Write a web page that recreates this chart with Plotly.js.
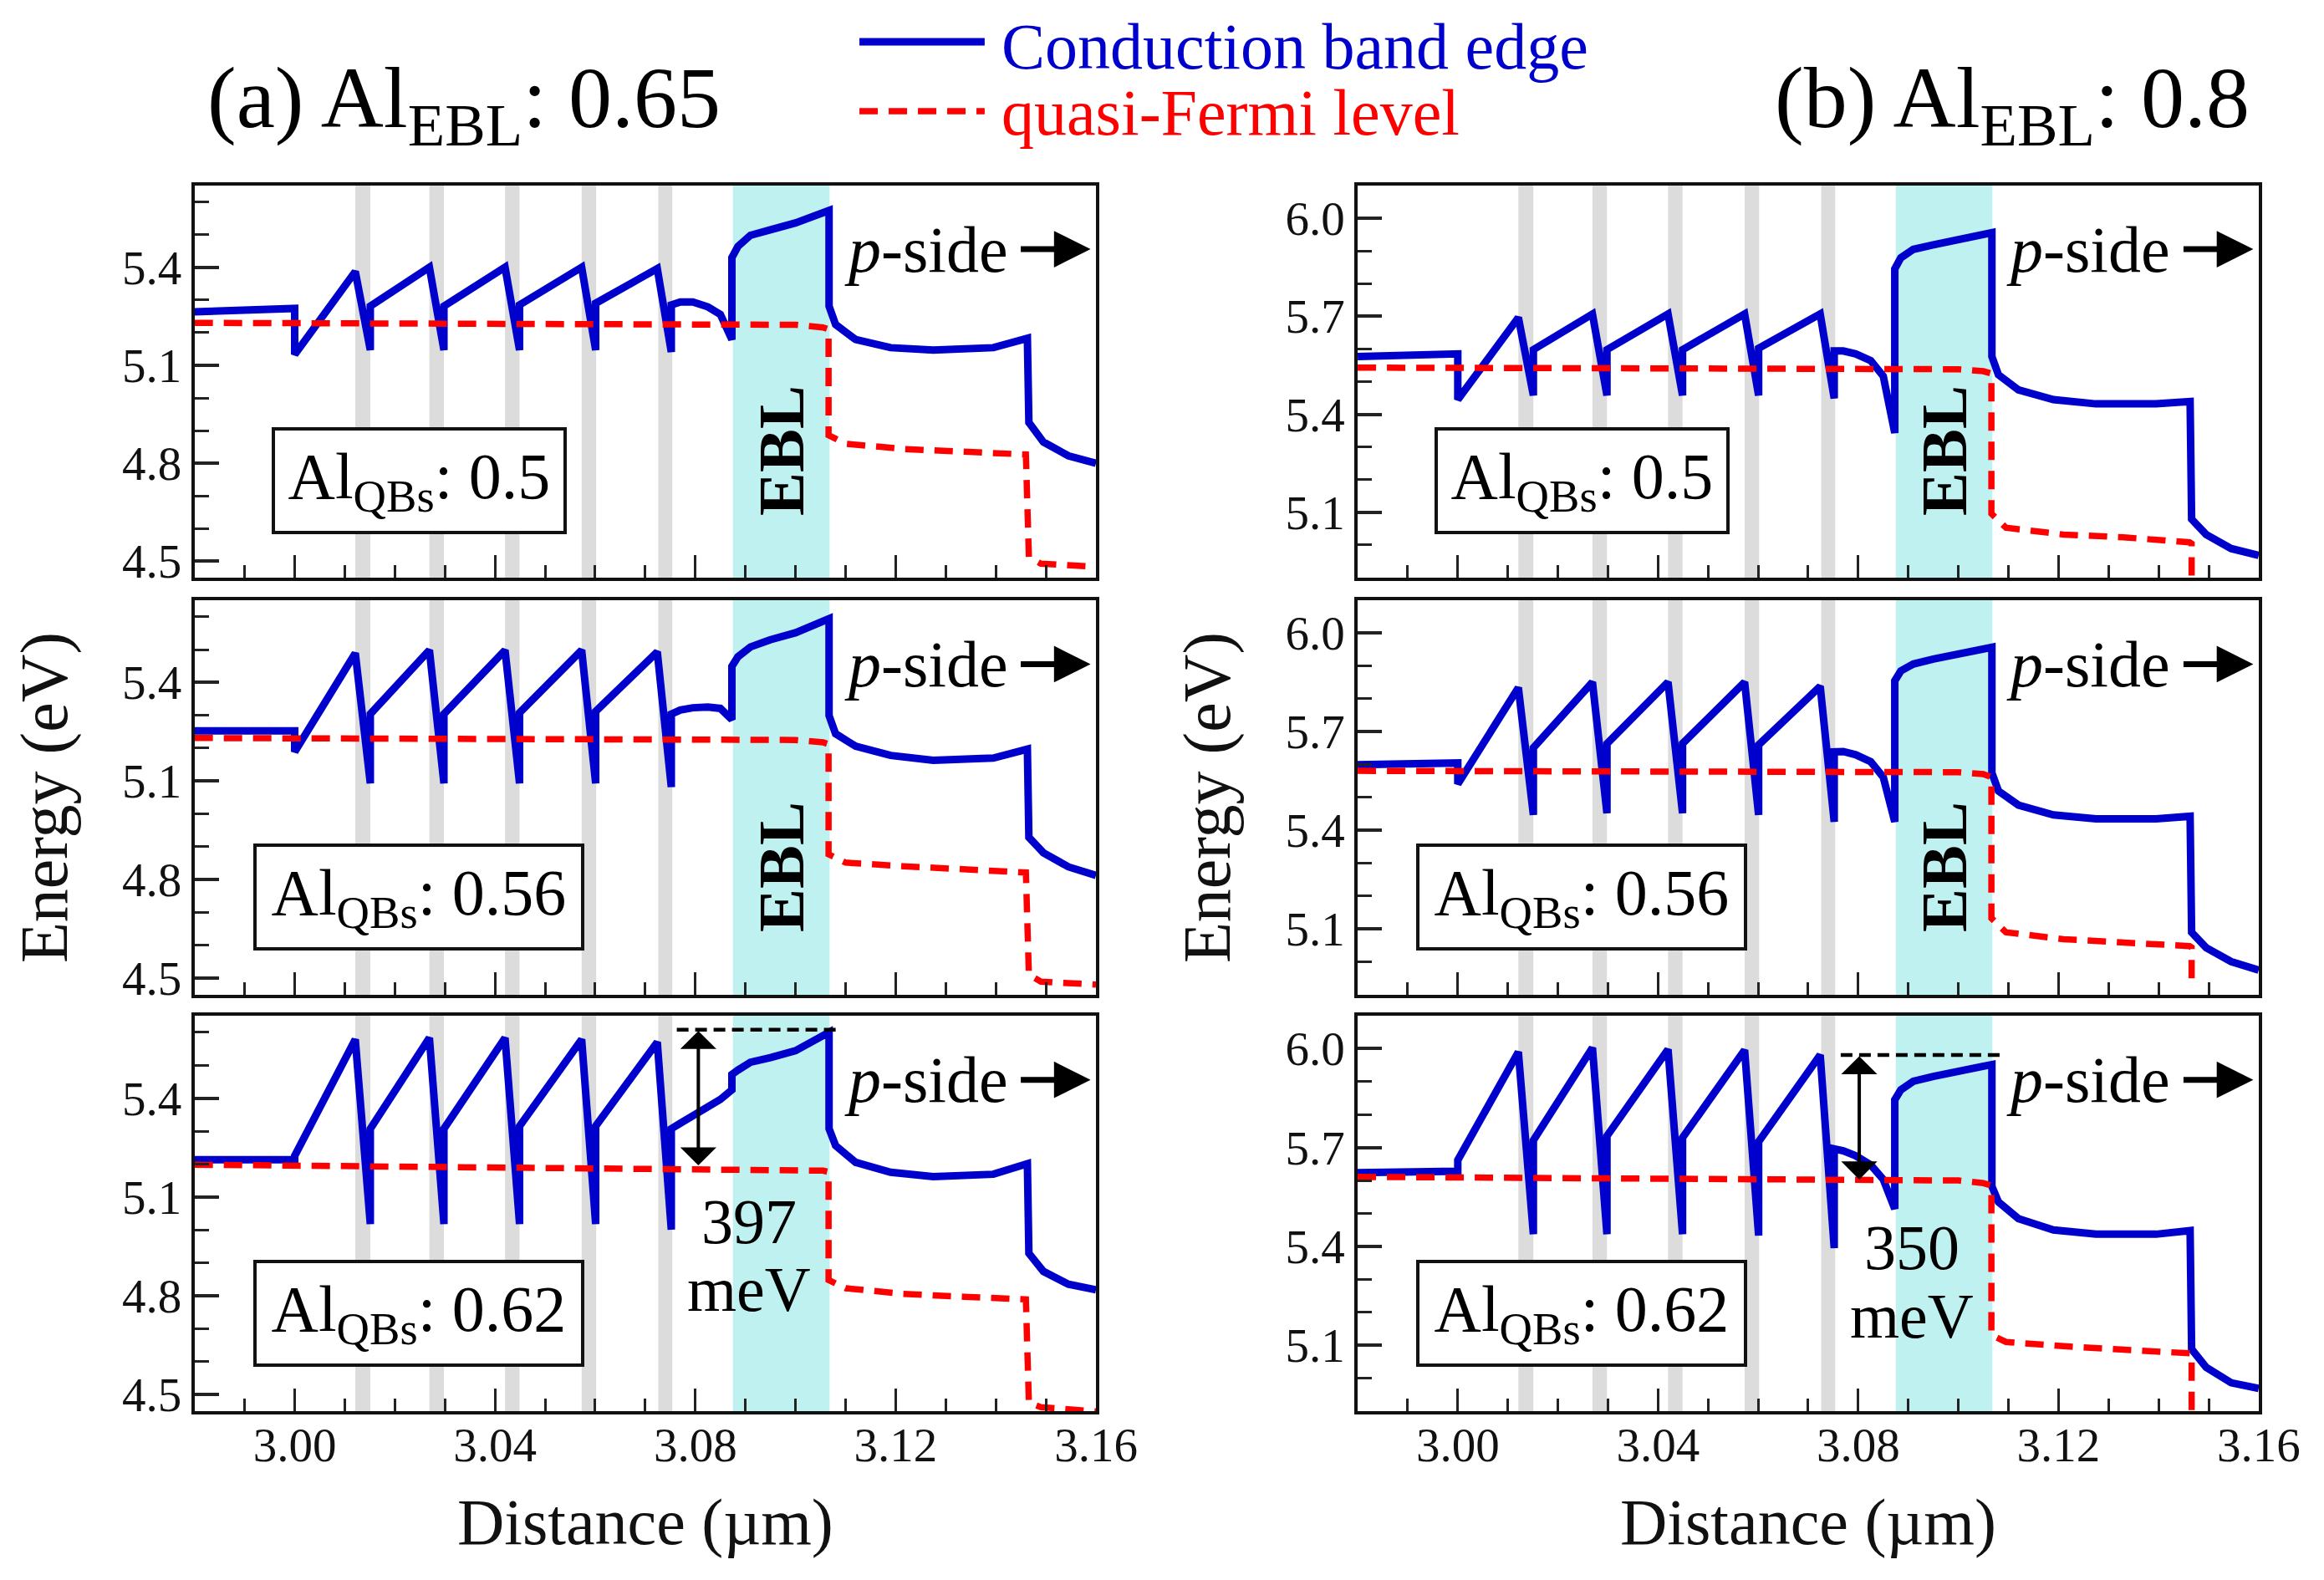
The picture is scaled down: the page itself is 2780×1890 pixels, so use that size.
<!DOCTYPE html>
<html><head><meta charset="utf-8">
<script src="https://cdn.plot.ly/plotly-3.0.1.min.js"></script>
<style>html,body{margin:0;padding:0;background:#fff}</style>
</head><body>
<div id="chart" style="width:2780px;height:1890px"></div>
<script>
// ---------- data ----------
// common sampling positions of the conduction band edge (µm)
const cbX = [2.980, 3.0000, 3.0000, 3.0121, 3.0151, 3.0151, 3.0269, 3.0298, 3.0298, 3.0420,
             3.0449, 3.0449, 3.0573, 3.0601, 3.0601, 3.0724, 3.0752, 3.0752, 3.0770, 3.0795,
             3.0825, 3.0850, 3.0873, 3.0873, 3.0885, 3.0910, 3.0950, 3.1000, 3.1067, 3.1067,
             3.1080, 3.1120, 3.1190, 3.1275, 3.1395, 3.1463, 3.1466, 3.1495, 3.1545, 3.1600];
// (a) Al_EBL 0.65
const cbA50 = [5.264, 5.274, 5.133, 5.387, 5.147, 5.281, 5.400, 5.147, 5.281, 5.400,
               5.147, 5.285, 5.400, 5.147, 5.290, 5.396, 5.141, 5.285, 5.294, 5.294,
               5.279, 5.256, 5.179, 5.430, 5.464, 5.498, 5.515, 5.536, 5.574, 5.281,
               5.225, 5.179, 5.154, 5.147, 5.154, 5.183, 4.925, 4.865, 4.823, 4.800];
const cbA56 = [5.253, 5.253, 5.189, 5.489, 5.093, 5.304, 5.498, 5.093, 5.304, 5.498,
               5.093, 5.308, 5.498, 5.093, 5.312, 5.493, 5.082, 5.304, 5.316, 5.323,
               5.325, 5.321, 5.287, 5.449, 5.478, 5.508, 5.530, 5.551, 5.594, 5.299,
               5.244, 5.206, 5.178, 5.163, 5.170, 5.197, 4.929, 4.882, 4.839, 4.813];
const cbA62 = [5.213, 5.213, 5.225, 5.578, 5.018, 5.307, 5.583, 5.018, 5.307, 5.583,
               5.018, 5.315, 5.578, 5.018, 5.315, 5.570, 5.001, 5.307, 5.324, 5.345,
               5.370, 5.396, 5.425, 5.472, 5.485, 5.509, 5.523, 5.544, 5.600, 5.307,
               5.256, 5.205, 5.175, 5.162, 5.169, 5.201, 4.929, 4.874, 4.835, 4.818];
// (b) Al_EBL 0.8
const cbB50 = [5.577, 5.585, 5.445, 5.696, 5.458, 5.598, 5.707, 5.458, 5.598, 5.707,
               5.458, 5.598, 5.707, 5.458, 5.602, 5.707, 5.449, 5.594, 5.594, 5.585,
               5.564, 5.517, 5.343, 5.845, 5.879, 5.905, 5.919, 5.933, 5.956, 5.577,
               5.521, 5.475, 5.445, 5.432, 5.432, 5.439, 5.079, 5.032, 4.989, 4.968];
const cbB56 = [5.600, 5.605, 5.541, 5.834, 5.447, 5.651, 5.851, 5.452, 5.664, 5.851,
               5.452, 5.664, 5.851, 5.447, 5.660, 5.838, 5.426, 5.639, 5.640, 5.630,
               5.609, 5.562, 5.426, 5.855, 5.885, 5.906, 5.921, 5.935, 5.957, 5.575,
               5.520, 5.477, 5.447, 5.435, 5.435, 5.443, 5.090, 5.043, 5.001, 4.975];
const cbB62 = [5.624, 5.628, 5.662, 5.990, 5.437, 5.722, 6.003, 5.437, 5.735, 5.998,
               5.437, 5.730, 5.996, 5.433, 5.718, 5.981, 5.395, 5.696, 5.690, 5.675,
               5.647, 5.603, 5.514, 5.845, 5.875, 5.901, 5.916, 5.930, 5.952, 5.582,
               5.535, 5.484, 5.450, 5.437, 5.437, 5.448, 5.088, 5.033, 4.986, 4.969];
// quasi-Fermi level
const qfXA = [2.980, 3.1000, 3.1055, 3.1066, 3.1066, 3.1100, 3.1215, 3.1337, 3.1460, 3.1466, 3.1490, 3.1600];
const qfA50 = [5.230, 5.224, 5.216, 5.210, 4.886, 4.860, 4.844, 4.835, 4.827, 4.513, 4.493, 4.483];
const qfA56 = [5.231, 5.225, 5.218, 5.212, 4.877, 4.852, 4.841, 4.830, 4.822, 4.511, 4.490, 4.481];
const qfA62 = [5.198, 5.184, 5.180, 5.176, 4.848, 4.823, 4.806, 4.797, 4.789, 4.475, 4.462, 4.449];
const qfXB = [2.980, 3.1000, 3.1050, 3.1066, 3.1066, 3.1095, 3.1210, 3.1335, 3.1462, 3.1466, 3.1466];
const qfB50 = [5.543, 5.538, 5.532, 5.525, 5.096, 5.053, 5.032, 5.023, 5.008, 5.004, 4.880];
const qfB56 = [5.581, 5.577, 5.571, 5.562, 5.133, 5.090, 5.069, 5.060, 5.048, 5.044, 4.950];
const qfB62 = [5.611, 5.600, 5.592, 5.585, 5.131, 5.110, 5.097, 5.088, 5.078, 5.075, 4.850];
// layer regions (µm)
const wellStart = [3.0121, 3.0269, 3.0420, 3.0573, 3.0726];
const wellEnd   = [3.0151, 3.0298, 3.0449, 3.0602, 3.0754];
const eblRange  = [3.0875, 3.1068];
// barrier-height markers in bottom panels: [x, y_fermi, y_peak, x_line_start, x_line_end, label]
const barrierA = [3.0806, 5.196, 5.608, 3.0763, 3.1087, '397'];
const barrierB = [3.0802, 5.603, 5.981, 3.0765, 3.1083, '350'];
const qbsLabels = ['0.5', '0.56', '0.62'];
const eblLabels = ['0.65', '0.8'];

// ---------- layout ----------
const FF = '"Liberation Serif", "Times New Roman", serif';
const BLUE = '#0000cc', RED = '#ff0000';
const RED_DASH = '22px,13px';
const xDom = [[0.0837, 0.4716], [0.5842, 0.9719]];
const yDom = [[0.6344, 0.8825], [0.3704, 0.6201], [0.1069, 0.3571]];
const yRng = [[4.45, 5.65], [4.9, 6.1]];

const panels = [
  {cb: cbA50, qx: qfXA, qf: qfA50, col: 0, row: 0, qb: 0},
  {cb: cbB50, qx: qfXB, qf: qfB50, col: 1, row: 0, qb: 0},
  {cb: cbA56, qx: qfXA, qf: qfA56, col: 0, row: 1, qb: 1},
  {cb: cbB56, qx: qfXB, qf: qfB56, col: 1, row: 1, qb: 1},
  {cb: cbA62, qx: qfXA, qf: qfA62, col: 0, row: 2, qb: 2},
  {cb: cbB62, qx: qfXB, qf: qfB62, col: 1, row: 2, qb: 2}
];

const traces = [], shapes = [], annotations = [];
const layout = {
  width: 2780, height: 1890,
  margin: {l: 0, r: 0, t: 0, b: 0},
  paper_bgcolor: '#fff', plot_bgcolor: '#fff',
  showlegend: false,
  font: {family: FF, color: '#000'}
};

function txt(o) { return Object.assign({showarrow: false, xanchor: 'center', yanchor: 'middle'}, o); }

panels.forEach((p, i) => {
  const n = i + 1, xs = n === 1 ? '' : String(n);
  const xa = 'x' + xs, ya = 'y' + xs;
  traces.push({x: cbX, y: p.cb, xaxis: xa, yaxis: ya, mode: 'lines', name: 'Conduction band edge',
               line: {color: BLUE, width: 9}});
  traces.push({x: p.qx, y: p.qf, xaxis: xa, yaxis: ya, mode: 'lines', name: 'quasi-Fermi level',
               line: {color: RED, width: 7.5, dash: RED_DASH}});
  const bottom = p.row === 2;
  const xax = {
    domain: xDom[p.col], range: [2.98, 3.16], anchor: ya,
    showline: true, mirror: true, linecolor: '#111', linewidth: 4,
    ticks: 'inside', ticklen: 27, tickwidth: 3, tickcolor: '#222',
    tick0: 3.0, dtick: 0.04, tickformat: '.2f',
    minor: {ticks: 'inside', dtick: 0.01, ticklen: 15, tickwidth: 3, tickcolor: '#222', showgrid: false},
    showticklabels: bottom, showgrid: false, zeroline: false,
    tickfont: {family: FF, size: 57, color: '#111'}, ticklabelstandoff: -12
  };
  if (bottom) xax.title = {text: 'Distance (µm)', font: {family: FF, size: 78, color: '#111'}, standoff: 34};
  layout['xaxis' + xs] = xax;
  const yax = {
    domain: yDom[p.row], range: yRng[p.col], anchor: xa,
    showline: true, mirror: true, linecolor: '#111', linewidth: 4,
    ticks: 'inside', ticklen: 29, tickwidth: 4, tickcolor: '#222',
    tick0: 4.5, dtick: 0.3, tickformat: '.1f',
    minor: {ticks: 'inside', dtick: 0.1, ticklen: 17, tickwidth: 3, tickcolor: '#222', showgrid: false},
    showgrid: false, zeroline: false,
    tickfont: {family: FF, size: 57, color: '#111'}
  };
  if (p.row === 1) yax.title = {text: 'Energy (eV)', font: {family: FF, size: 80, color: '#111'}, standoff: 40};
  layout['yaxis' + xs] = yax;
  // wells (gray) and EBL (cyan)
  wellStart.forEach((w, k) => shapes.push({type: 'rect', xref: xa, yref: ya + ' domain', x0: w, x1: wellEnd[k], y0: 0, y1: 1,
    fillcolor: '#dcdcdc', line: {width: 0}, layer: 'below'}));
  shapes.push({type: 'rect', xref: xa, yref: ya + ' domain', x0: eblRange[0], x1: eblRange[1], y0: 0, y1: 1,
    fillcolor: '#bff1f1', line: {width: 0}, layer: 'below'});
  // inset box with Al_QBs
  annotations.push(txt({xref: xa + ' domain', yref: ya + ' domain', x: 0.249, y: 0.248,
    text: 'Al<sub>QBs</sub>: ' + qbsLabels[p.qb], font: {family: FF, size: 78, color: '#000'},
    bgcolor: '#fff', bordercolor: '#111', borderwidth: 4, borderpad: 0,
    width: p.qb === 0 ? 345 : 388, height: 120}));
  // p-side label with its arrow
  annotations.push({xref: xa + ' domain', yref: ya + ' domain', x: 0.994, y: 0.838,
    text: '<i>p</i>-side', font: {family: FF, size: 78, color: '#000'},
    showarrow: true, ax: -197, ay: 0, startstandoff: 14, arrowhead: 2, arrowsize: 1.25, arrowwidth: 7, arrowcolor: '#000'});
  if (!bottom) {
    annotations.push(txt({xref: xa, yref: ya + ' domain', x: (eblRange[0] + eblRange[1]) / 2, y: 0.323,
      textangle: -90, text: '<b>EBL</b>', font: {family: FF, size: 78, color: '#000'}}));
  } else {
    const b = p.col === 0 ? barrierA : barrierB;
    shapes.push({type: 'line', xref: xa, yref: ya, x0: b[3], x1: b[4], y0: b[2], y1: b[2],
      line: {color: '#000', width: 4.5, dash: '14px,8px'}});
    annotations.push({xref: xa, yref: ya, x: b[0], y: b[1], axref: xa, ayref: ya, ax: b[0], ay: b[2],
      text: '', showarrow: true, arrowside: 'end+start', arrowhead: 1, arrowsize: 1.8, arrowwidth: 4, arrowcolor: '#000'});
    annotations.push(txt({xref: xa, yref: ya + ' domain', x: 3.0907, y: p.col === 0 ? 0.48 : 0.414,
      text: b[5], font: {family: FF, size: 76, color: '#000'}}));
    annotations.push(txt({xref: xa, yref: ya + ' domain', x: 3.0907, y: p.col === 0 ? 0.308 : 0.242,
      text: 'meV', font: {family: FF, size: 76, color: '#000'}}));
  }
});

// panel titles
annotations.push(txt({xref: 'paper', yref: 'paper', x: 0.1996, y: 0.934,
  text: '(a) Al<sub>EBL</sub>: ' + eblLabels[0], font: {family: FF, size: 104, color: '#000'}}));
annotations.push(txt({xref: 'paper', yref: 'paper', x: 0.866, y: 0.934,
  text: '(b) Al<sub>EBL</sub>: ' + eblLabels[1], font: {family: FF, size: 104, color: '#000'}}));
// legend (drawn at the top centre)
shapes.push({type: 'line', xref: 'paper', yref: 'paper', x0: 0.3698, x1: 0.4237, y0: 0.9735, y1: 0.9735,
  line: {color: BLUE, width: 9}});
shapes.push({type: 'line', xref: 'paper', yref: 'paper', x0: 0.3698, x1: 0.4237, y0: 0.9296, y1: 0.9296,
  line: {color: RED, width: 7.5, dash: RED_DASH}});
annotations.push(txt({xref: 'paper', yref: 'paper', x: 0.4302, y: 0.9705, xanchor: 'left',
  text: 'Conduction band edge', font: {family: FF, size: 78, color: BLUE}}));
annotations.push(txt({xref: 'paper', yref: 'paper', x: 0.4302, y: 0.9286, xanchor: 'left',
  text: 'quasi-Fermi level', font: {family: FF, size: 78, color: RED}}));

layout.shapes = shapes;
layout.annotations = annotations;
Plotly.newPlot('chart', traces, layout, {staticPlot: true, displayModeBar: false});
</script>
</body></html>
